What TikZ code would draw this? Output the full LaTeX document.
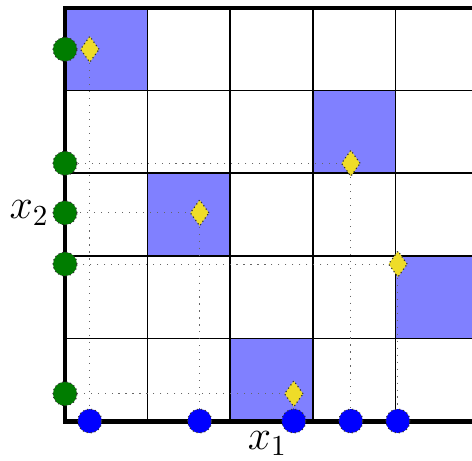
\documentclass[tikz,border=0pt]{standalone}
\usepackage{amsmath}
\usepackage{xcolor}
\usepackage{tikz}
\usetikzlibrary{shapes.geometric, positioning}

\definecolor{cellblue}{RGB}{128,128,255}
\definecolor{pointyellow}{RGB}{238,220,40}
\definecolor{dotgreen}{RGB}{0,125,0}

\begin{document}
\begin{tikzpicture}[
  cell/.style={fill=cellblue, draw=black, thin},
  sample/.style={diamond, draw=black!80, densely dotted, fill=pointyellow, inner sep=0pt, minimum width=0.23cm, minimum height=0.32cm},
  projx/.style={circle, draw=black!80, densely dotted, fill=blue, inner sep=0pt, minimum size=0.29cm},
  projy/.style={circle, draw=black!80, densely dotted, fill=dotgreen, inner sep=0pt, minimum size=0.29cm},
  guide/.style={dotted, gray!80!black, thin}
]

\useasboundingbox (-0.787,-0.472) rectangle (4.927,5.097);
\clip (-0.787,-0.472) rectangle (4.927,5.097);

% Cells
\fill[cell] (0,4) rectangle (1,5);
\fill[cell] (3,3) rectangle (4,4);
\fill[cell] (1,2) rectangle (2,3);
\fill[cell] (4,1) rectangle (5,2);
\fill[cell] (2,0) rectangle (3,1);
\draw[line width=0.5pt] (0,0) grid (5,5);

% Points
\coordinate (p1) at (0.30,4.50);
\coordinate (p2) at (3.46,3.12);
\coordinate (p3) at (1.63,2.52);
\coordinate (p4) at (4.03,1.90);
\coordinate (p5) at (2.77,0.33);

\coordinate (a1) at (0,4.50);
\coordinate (a2) at (0,3.12);
\coordinate (a3) at (0,2.52);
\coordinate (a4) at (0,1.90);
\coordinate (a5) at (0,0.33);

\coordinate (b1) at (0.30,0);
\coordinate (b2) at (3.46,0);
\coordinate (b3) at (1.63,0);
\coordinate (b4) at (4.03,0);
\coordinate (b5) at (2.77,0);

% Guides
\draw[guide] (p1) -- (a1);
\draw[guide] (p2) -- (a2);
\draw[guide] (p3) -- (a3);
\draw[guide] (p4) -- (a4);
\draw[guide] (p5) -- (a5);
\draw[guide] (p1) -- (b1);
\draw[guide] (p2) -- (b2);
\draw[guide] (p3) -- (b3);
\draw[guide] (p4) -- (b4);
\draw[guide] (p5) -- (b5);

% Axes
\draw[line width=1.7pt] (0,0) rectangle (5,5);

% Nodes
\node[projy] (y1) at (a1) {};
\node[projy] (y2) at (a2) {};
\node[projy] (y3) at (a3) {};
\node[projy] (y4) at (a4) {};
\node[projy] (y5) at (a5) {};

\node[projx] (x1) at (b1) {};
\node[projx] (x2) at (b2) {};
\node[projx] (x3) at (b3) {};
\node[projx] (x4) at (b4) {};
\node[projx] (x5) at (b5) {};

\node[sample] (s1) at (p1) {};
\node[sample] (s2) at (p2) {};
\node[sample] (s3) at (p3) {};
\node[sample] (s4) at (p4) {};
\node[sample] (s5) at (p5) {};

% Labels
\node[left=0pt of y3, inner sep=1pt] (lab2) {\Large $x_2$};
\node at (2.45,-0.27) (lab1) {\Large $x_1$};
\end{tikzpicture}
\end{document}
